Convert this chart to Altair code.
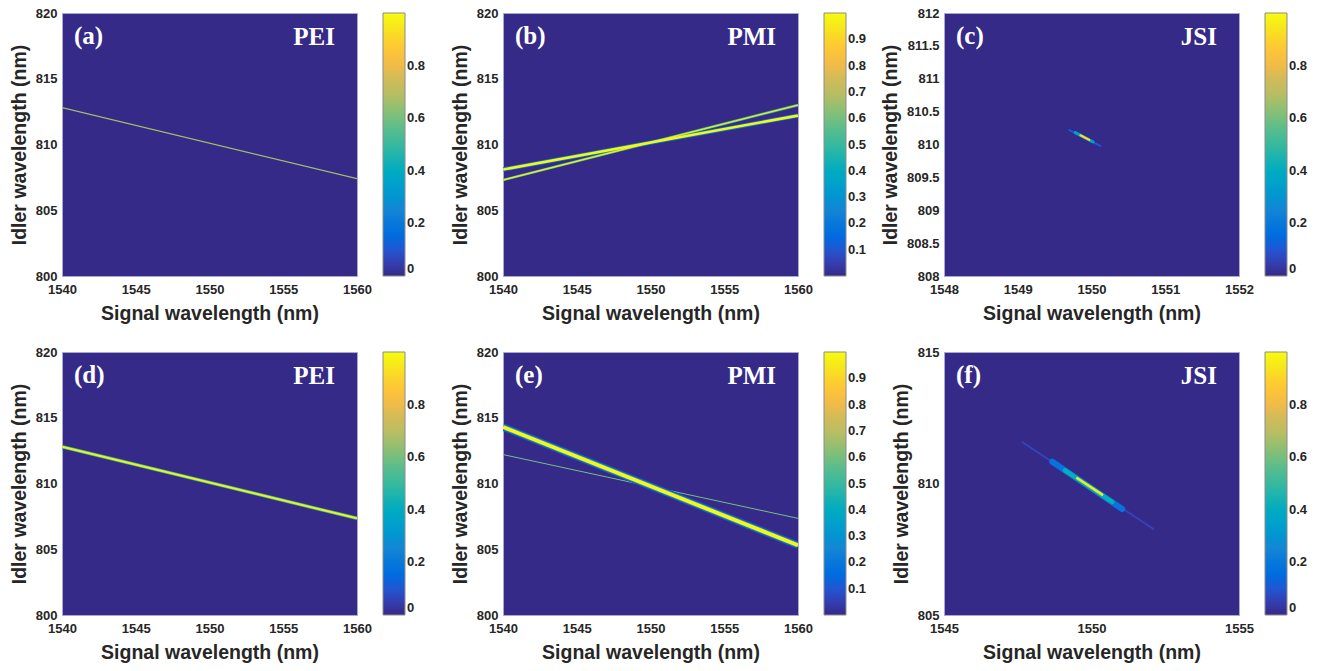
import altair as alt
import pandas as pd

# ------------------------------------------------------------------ data
PANEL_IDS = ["a", "b", "c", "d", "e", "f"]
PANEL_LETTERS = ["(a)", "(b)", "(c)", "(d)", "(e)", "(f)"]
PANEL_TAGS = ["PEI", "PMI", "JSI", "PEI", "PMI", "JSI"]

X_DOMAINS = [[1540, 1560], [1540, 1560], [1548, 1552],
             [1540, 1560], [1540, 1560], [1545, 1555]]
Y_DOMAINS = [[800, 820], [800, 820], [808, 812],
             [800, 820], [800, 820], [805, 815]]

X_TICKS = [[1540, 1545, 1550, 1555, 1560],
           [1540, 1545, 1550, 1555, 1560],
           [1548, 1549, 1550, 1551, 1552],
           [1540, 1545, 1550, 1555, 1560],
           [1540, 1545, 1550, 1555, 1560],
           [1545, 1550, 1555]]
Y_TICKS = [[800, 805, 810, 815, 820],
           [800, 805, 810, 815, 820],
           [808, 808.5, 809, 809.5, 810, 810.5, 811, 811.5, 812],
           [800, 805, 810, 815, 820],
           [800, 805, 810, 815, 820],
           [805, 810, 815]]
BAR_TICKS = [[0, 0.2, 0.4, 0.6, 0.8],
             [0.1, 0.2, 0.3, 0.4, 0.5, 0.6, 0.7, 0.8, 0.9],
             [0, 0.2, 0.4, 0.6, 0.8],
             [0, 0.2, 0.4, 0.6, 0.8],
             [0.1, 0.2, 0.3, 0.4, 0.5, 0.6, 0.7, 0.8, 0.9],
             [0, 0.2, 0.4, 0.6, 0.8]]

# intensity ridges: panel, start (signal, idler), end (signal, idler), intensity
SEG_PANEL = ["a",
             "b", "b", "b", "b",
             "c", "c", "c",
             "d", "d",
             "e", "e", "e", "e",
             "f", "f", "f", "f"]
SEG_S1 = [1540,
          1540, 1540, 1540, 1540,
          1549.70, 1549.78, 1549.85,
          1540, 1540,
          1540, 1540, 1540, 1540,
          1547.66, 1548.67, 1549.10, 1549.52]
SEG_I1 = [812.8,
          808.1, 807.3, 807.3, 808.1,
          810.22, 810.18, 810.14,
          812.8, 812.8,
          812.2, 814.3, 814.3, 814.3,
          811.57, 810.83, 810.50, 810.20]
SEG_S2 = [1560,
          1560, 1560, 1560, 1560,
          1550.12, 1550.02, 1549.97,
          1560, 1560,
          1560, 1560, 1560, 1560,
          1552.10, 1551.04, 1550.70, 1550.36]
SEG_I2 = [807.4,
          812.2, 813.0, 813.0, 812.2,
          809.98, 810.04, 810.07,
          807.35, 807.35,
          807.35, 805.3, 805.3, 805.3,
          808.27, 809.03, 809.30, 809.58]
SEG_VAL = [0.66,
           0.20, 0.50, 0.95, 0.99,
           0.10, 0.35, 0.92,
           0.50, 0.97,
           0.60, 0.08, 0.30, 0.99,
           0.07, 0.18, 0.42, 0.95]

# ------------------------------------------------------------------ style
SEG_STROKE = [1.2,
              4.2, 2.6, 1.3, 2.6,
              2.0, 3.2, 2.2,
              3.4, 1.9,
              1.0, 7.5, 5.5, 3.8,
              1.6, 6.0, 4.5, 2.6]
SEG_CAP = ["butt",
           "butt", "butt", "butt", "butt",
           "round", "round", "round",
           "butt", "butt",
           "butt", "butt", "butt", "butt",
           "round", "round", "round", "round"]

PARULA = ["#352a87", "#3243ba", "#0363e1", "#0d75dc", "#1485d4", "#0998d1",
          "#06a7c6", "#15b1b4", "#38b99e", "#59bd8c", "#87bf77", "#b7bd64",
          "#d1bb59", "#f8bb44", "#fec832", "#f5e41d", "#f9fb0e"]

W, H = 295, 263
TEXT = "#262626"
SANS = "Liberation Sans"
SERIF = "Liberation Serif"


def panel(i):
    pid = PANEL_IDS[i]
    xs = alt.Scale(domain=X_DOMAINS[i], nice=False, zero=False)
    ys = alt.Scale(domain=Y_DOMAINS[i], nice=False, zero=False)
    x_axis = alt.Axis(values=X_TICKS[i], title="Signal wavelength (nm)", format="~f")
    y_axis = alt.Axis(values=Y_TICKS[i], title="Idler wavelength (nm)", format="~f")
    color = alt.Color(
        "v:Q",
        scale=alt.Scale(domain=[0, 1], range=PARULA, clamp=True),
        legend=alt.Legend(values=BAR_TICKS[i], format="~f", title=None),
    )
    layers = []
    for k in range(len(SEG_PANEL)):
        if SEG_PANEL[k] != pid:
            continue
        df = pd.DataFrame({"s1": [SEG_S1[k]], "i1": [SEG_I1[k]],
                           "s2": [SEG_S2[k]], "i2": [SEG_I2[k]],
                           "v": [SEG_VAL[k]]})
        layers.append(
            alt.Chart(df)
            .mark_rule(strokeWidth=SEG_STROKE[k], strokeCap=SEG_CAP[k], clip=True)
            .encode(
                x=alt.X("s1:Q", scale=xs, axis=x_axis),
                x2="s2:Q",
                y=alt.Y("i1:Q", scale=ys, axis=y_axis),
                y2="i2:Q",
                color=color,
            )
        )
    letter = (
        alt.Chart(pd.DataFrame({"t": [PANEL_LETTERS[i]]}))
        .mark_text(font=SERIF, fontWeight="bold", fontSize=25, color="white",
                   align="left", baseline="alphabetic")
        .encode(x=alt.value(12), y=alt.value(31), text="t:N")
    )
    tag = (
        alt.Chart(pd.DataFrame({"t": [PANEL_TAGS[i]]}))
        .mark_text(font=SERIF, fontWeight="bold", fontSize=25, color="white",
                   align="right", baseline="alphabetic")
        .encode(x=alt.value(W - 22), y=alt.value(32), text="t:N")
    )
    return alt.layer(*layers, letter, tag).properties(width=W, height=H)


panels = [panel(i) for i in range(6)]

chart = (
    alt.concat(*panels, columns=3, spacing={"row": 76, "column": 146}, bounds="flush")
    .resolve_scale(color="independent", x="independent", y="independent")
    .resolve_legend(color="independent")
    .properties(padding={"left": 8, "top": 6, "right": 5, "bottom": 5}, background="white")
    .configure_view(fill="#352a87", stroke="#a9a9cf", strokeWidth=1)
    .configure_axis(
        labelFont=SANS, labelFontWeight="bold", labelFontSize=13, labelColor=TEXT,
        titleFont=SANS, titleFontWeight="bold", titleFontSize=19.5, titleColor=TEXT,
        ticks=False, domain=False, grid=False, labelFlush=False, labelOverlap=False,
        labelBound=False,
    )
    .configure_axisX(labelPadding=7, titlePadding=8)
    .configure_axisY(labelPadding=5, titlePadding=6)
    .configure_legend(
        orient="right", offset=26, padding=0, gradientLength=H, gradientThickness=22,
        gradientStrokeColor="#8c8c8c", gradientStrokeWidth=1,
        labelFont=SANS, labelFontWeight="bold", labelFontSize=13, labelColor=TEXT,
        labelOffset=5, labelOverlap=False,
    )
)

chart.save("out.html", embed_options={"renderer": "svg", "actions": False})
